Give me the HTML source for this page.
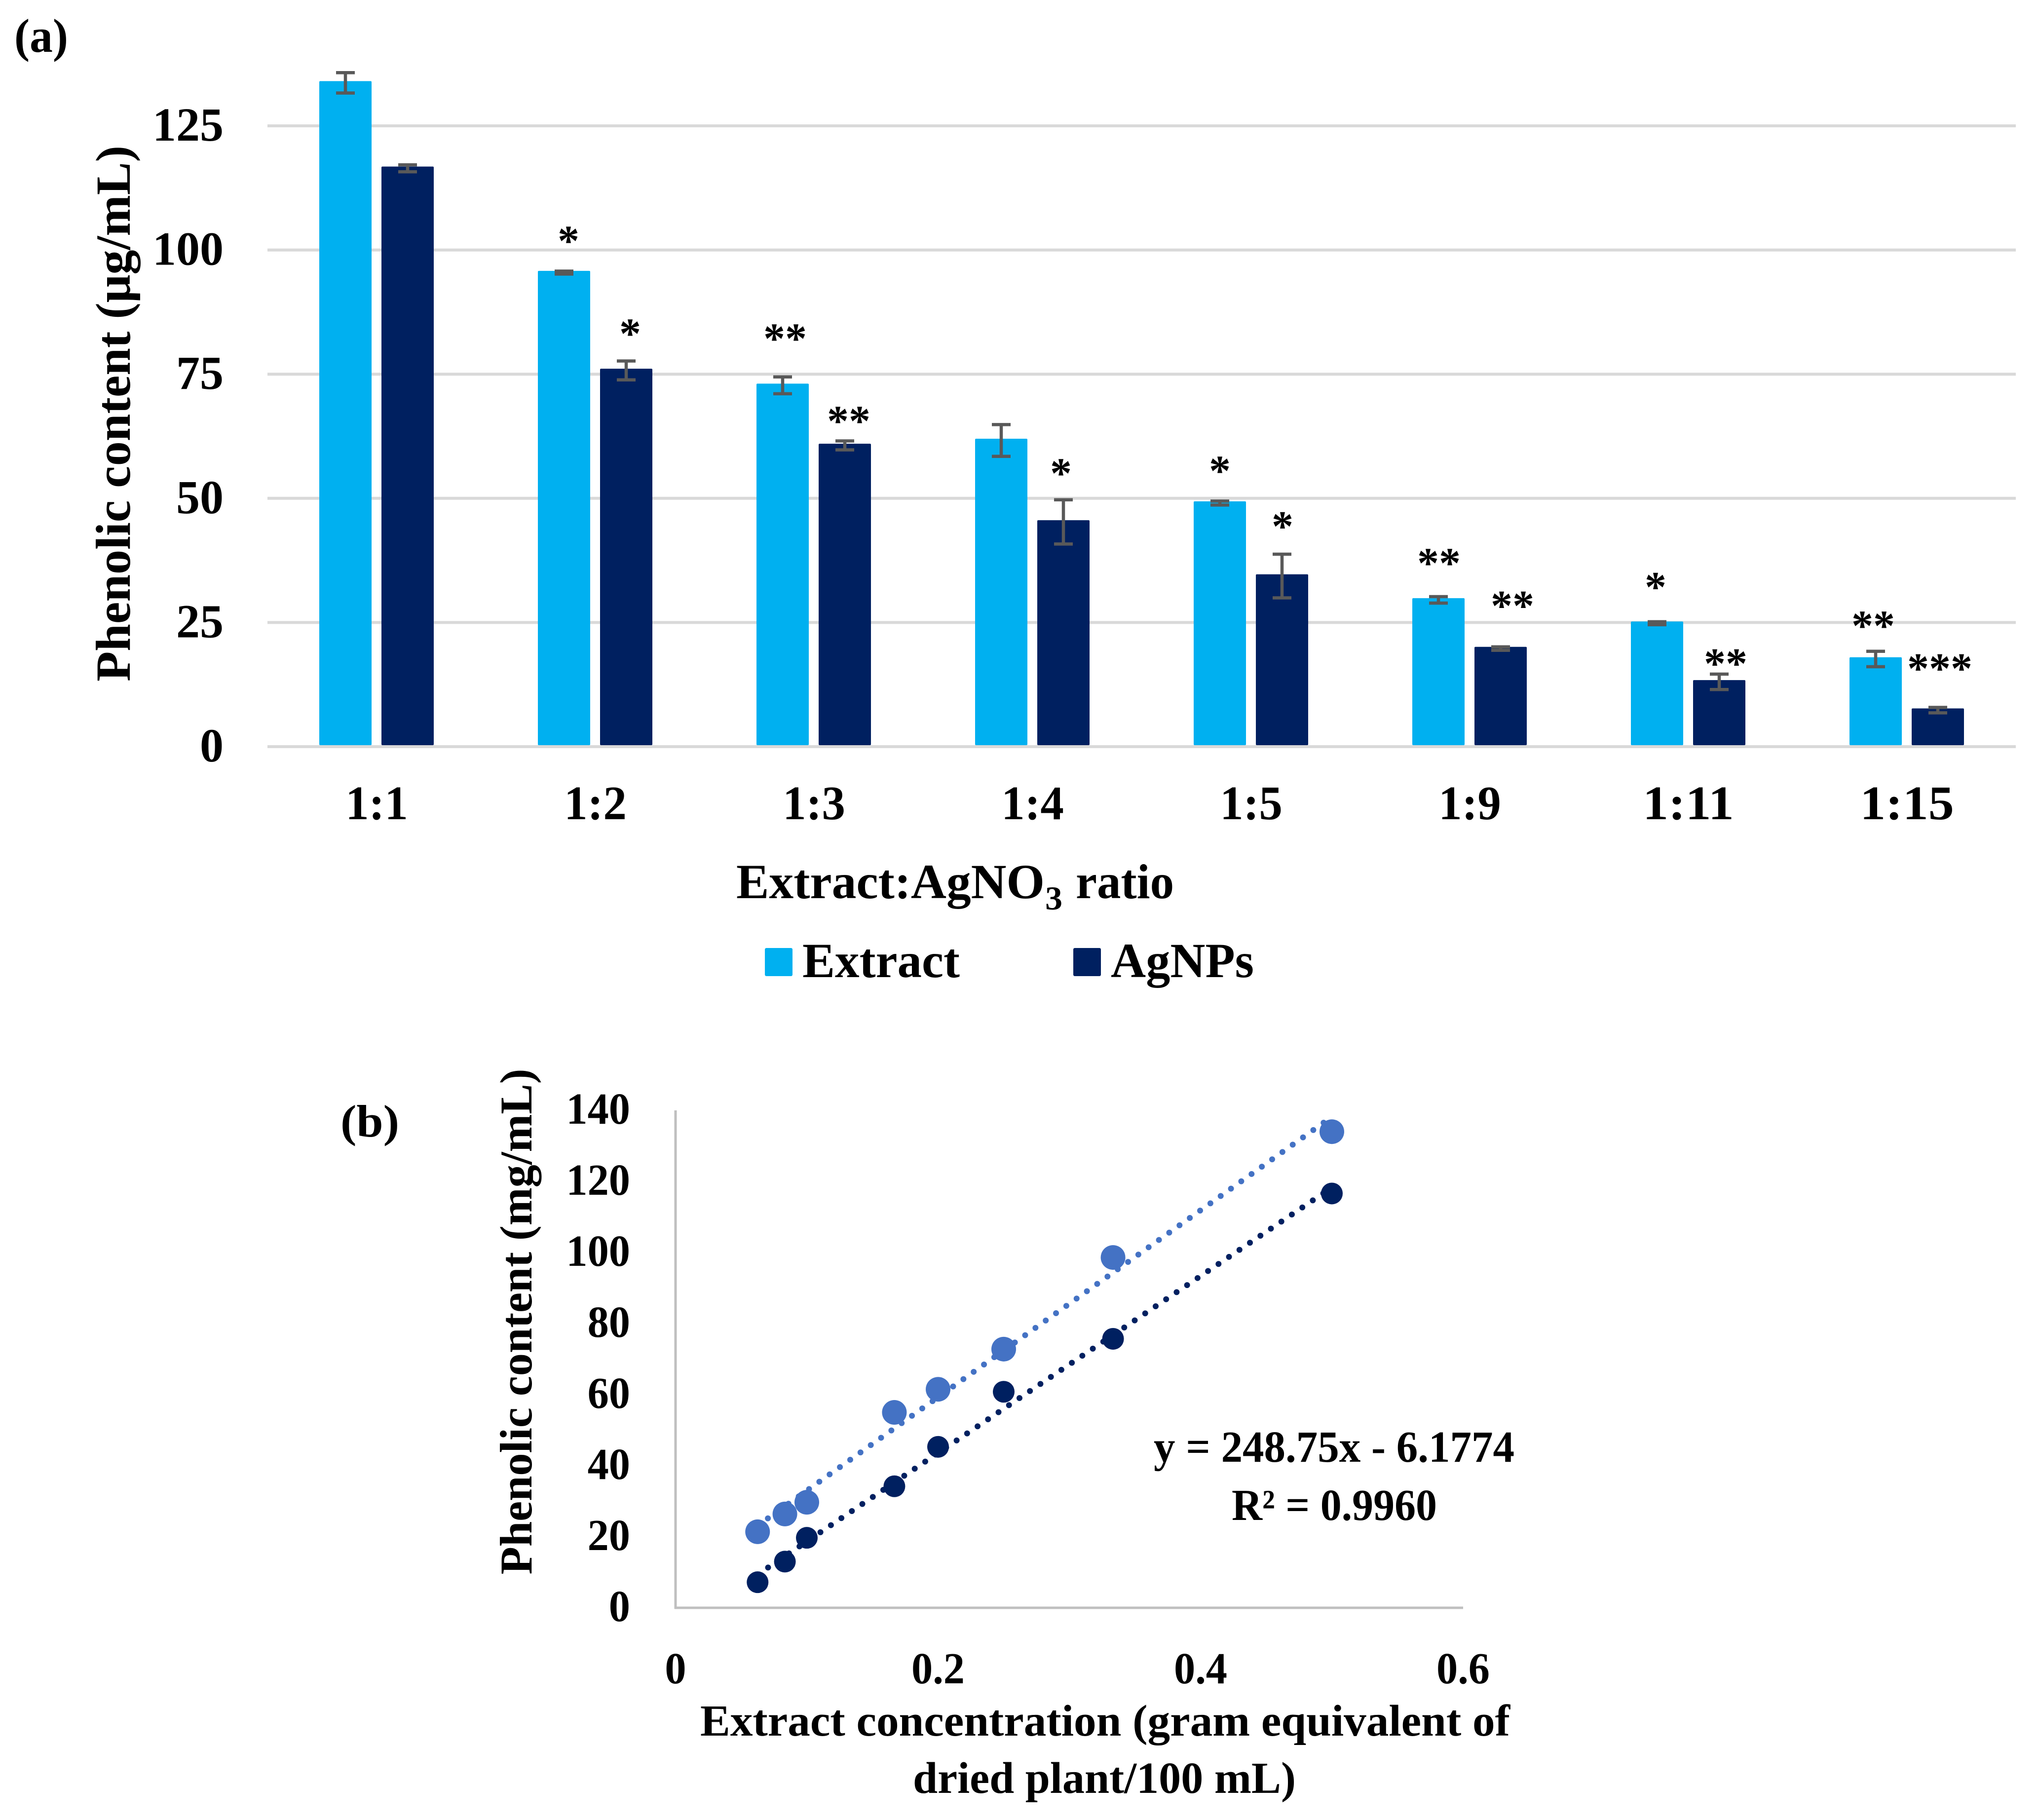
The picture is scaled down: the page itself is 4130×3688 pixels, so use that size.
<!DOCTYPE html>
<html lang="en">
<head>
<meta charset="utf-8">
<title>Phenolic content charts</title>
<style>
html,body{margin:0;padding:0;background:#fff;}
body{width:4130px;height:3688px;overflow:hidden;}
svg{display:block;}
text{font-family:"Liberation Serif","DejaVu Serif",serif;font-weight:bold;fill:#000;}
</style>
</head>
<body>
<svg id="fig" xmlns="http://www.w3.org/2000/svg" width="4130" height="3688" viewBox="0 0 4130 3688">
  <rect x="0" y="0" width="4130" height="3688" fill="#ffffff"/>

  <g id="panelA">
    <text x="29" y="105" font-size="96" textLength="109" lengthAdjust="spacingAndGlyphs">(a)</text>
    <g id="gridA"></g>
    <g id="yTicksA"></g>
    <g id="barsA"></g>
    <g id="errA"></g>
    <g id="starsA"></g>
    <g id="xTicksA"></g>
    <text transform="translate(263,838) rotate(-90)" text-anchor="middle" font-size="100" textLength="1086" lengthAdjust="spacingAndGlyphs">Phenolic content (μg/mL)</text>
    <g>
      <text x="1492" y="1820" font-size="100" textLength="625" lengthAdjust="spacingAndGlyphs">Extract:AgNO</text>
      <text x="2118" y="1843" font-size="68" textLength="35" lengthAdjust="spacingAndGlyphs">3</text>
      <text x="2180" y="1820" font-size="100" textLength="199" lengthAdjust="spacingAndGlyphs">ratio</text>
    </g>
    <g>
      <rect x="1550" y="1921" width="56" height="57" rx="3" fill="#00b0f0"/>
      <text x="1626" y="1980" font-size="100" textLength="319" lengthAdjust="spacingAndGlyphs">Extract</text>
      <rect x="2175" y="1921" width="56" height="57" rx="3" fill="#002060"/>
      <text x="2251" y="1980" font-size="100" textLength="290" lengthAdjust="spacingAndGlyphs">AgNPs</text>
    </g>
  </g>

  <g id="panelB">
    <text x="690" y="2303" font-size="92" textLength="119" lengthAdjust="spacingAndGlyphs">(b)</text>
    <line x1="1369" y1="2250" x2="1369" y2="3260" stroke="#bfbfbf" stroke-width="5"/>
    <line x1="1367" y1="3258" x2="2965" y2="3258" stroke="#bfbfbf" stroke-width="5"/>
    <g id="yTicksB"></g>
    <g id="xTicksB"></g>
    <g id="trendB"></g>
    <g id="pointsB"></g>
    <text transform="translate(1077,2678) rotate(-90)" text-anchor="middle" font-size="92" textLength="1025" lengthAdjust="spacingAndGlyphs">Phenolic content (mg/mL)</text>
    <text x="1419" y="3517" font-size="90" textLength="1641" lengthAdjust="spacingAndGlyphs">Extract concentration (gram equivalent of</text>
    <text x="1850" y="3633" font-size="90" textLength="776" lengthAdjust="spacingAndGlyphs">dried plant/100 mL)</text>
    <text x="2338" y="2962" font-size="90" textLength="731" lengthAdjust="spacingAndGlyphs">y = 248.75x - 6.1774</text>
    <text x="2496" y="3080" font-size="90" textLength="416" lengthAdjust="spacingAndGlyphs">R² = 0.9960</text>
  </g>
</svg>

<script>
// Panel (a) data
const categoriesA = ['1:1','1:2','1:3','1:4','1:5','1:9','1:11','1:15'];
const extractValues = [134.0,95.8,73.1,62.0,49.4,29.9,25.2,18.0];
const agnpValues = [116.8,76.1,61.0,45.6,34.7,20.1,13.4,7.7];
const extractErrors = [2.05,0.3,1.7,3.2,0.4,0.65,0.3,1.55];
const agnpErrors = [0.7,1.9,0.9,4.45,4.4,0.35,1.55,0.55];
const extractStars = ['','*','**','','*','**','*','**'];
const agnpStars = ['','*','**','*','*','**','**','***'];
const extractStarLevels = [0,103,83.3,0,56.7,38.1,33.3,25.5];
const agnpStarLevels = [0,84.3,66.7,56.2,45.5,29.5,17.9,16.9];
const extractStarShift = [0,9,5,0,0,1,-3,-5];
const agnpStarShift = [0,8,8,-5,1,24,13,4];
const yTicksA = [0,25,50,75,100,125];

// Panel (b) data
const xValuesB = [0.5,0.3333,0.25,0.2,0.1667,0.1,0.0833,0.0625];
const extractSeriesB = [134,98.6,72.8,61.5,55,29.7,26.4,21.4];
const agnpSeriesB = [116.6,75.7,60.8,45.3,34.2,19.7,13,7.2];
const yTicksB = [0,20,40,60,80,100,120,140];
const xTicksB = [0,0.2,0.4,0.6];

const NS = 'http://www.w3.org/2000/svg';
function mk(tag, attrs, parent, txt){
  const el = document.createElementNS(NS, tag);
  for (const k in attrs) el.setAttribute(k, attrs[k]);
  if (txt !== undefined) el.textContent = txt;
  parent.appendChild(el);
  return el;
}
function fit(el, factor){
  el.setAttribute('textLength', (el.getComputedTextLength() * factor).toFixed(1));
  el.setAttribute('lengthAdjust', 'spacingAndGlyphs');
}

// Panel (a) axis functions
const yA = v => 1513 - v * 10.064;
const bandA = i => 542 + 443 * i;
const BAR_BOTTOM = 1510;
const BAR_W = 106;

const gridA = document.getElementById('gridA');
const yTickGroupA = document.getElementById('yTicksA');
yTicksA.forEach(t => {
  const line = mk('line', {x1:542, x2:4085, y1:yA(t), y2:yA(t), stroke:'#d9d9d9', 'stroke-width':6}, gridA);
  
  
  const lab = mk('text', {x:453, y:yA(t) + 30, 'text-anchor':'end', 'font-size':96}, yTickGroupA, String(t));
  
  
});

const barsA = document.getElementById('barsA');
const errA = document.getElementById('errA');
const starsA = document.getElementById('starsA');
const xTickGroupA = document.getElementById('xTicksA');

function drawBar(i, val, err, offset, color, seriesName){
  const x = bandA(i) + offset;
  const top = yA(val);
  const bar = mk('rect', {x:x, y:top, width:BAR_W, height:BAR_BOTTOM - top, rx:2, fill:color}, barsA);
  
  
  const cx = x + BAR_W / 2;
  const cy = top + 3.5;
  const hi = cy - err * 10.064;
  const lo = cy + err * 10.064;
  const eb = mk('path', {d:'M' + (cx-19) + ' ' + hi + 'H' + (cx+19) + 'M' + cx + ' ' + hi + 'V' + lo + 'M' + (cx-19) + ' ' + lo + 'H' + (cx+19), stroke:'#595959', 'stroke-width':6.5, fill:'none'}, errA);
  
  
}
function drawStar(i, label, level, offset, shift, seriesName){
  if (!label) return;
  const cx = bandA(i) + offset + BAR_W / 2 + shift;
  const st = mk('text', {x:cx, y:yA(level) + 41, 'text-anchor':'middle', 'font-size':88}, starsA, label);
  
  
}
categoriesA.forEach((c, i) => {
  drawBar(i, extractValues[i], extractErrors[i], 105, '#00b0f0', 'extract');
  drawBar(i, agnpValues[i], agnpErrors[i], 231, '#002060', 'agnps');
  drawStar(i, extractStars[i], extractStarLevels[i], 105, extractStarShift[i], 'extract');
  drawStar(i, agnpStars[i], agnpStarLevels[i], 231, agnpStarShift[i], 'agnps');
  const lab = mk('text', {x:bandA(i) + 221.5, y:1660, 'text-anchor':'middle', 'font-size':98}, xTickGroupA, c);
  
  
  fit(lab, c.length > 3 ? 1.06 : 0.97);
});

// Panel (b) axis functions
const xB = v => 1369 + v * 2660;
const yB = v => 3258 - v * 7.2;

const yTickGroupB = document.getElementById('yTicksB');
yTicksB.forEach(t => {
  const lab = mk('text', {x:1277, y:yB(t) + 27, 'text-anchor':'end', 'font-size':90}, yTickGroupB, String(t));
  
  
  fit(lab, 0.96);
});
const xTickGroupB = document.getElementById('xTicksB');
xTicksB.forEach(t => {
  const lab = mk('text', {x:xB(t), y:3411, 'text-anchor':'middle', 'font-size':90}, xTickGroupB, String(t));
  
  
  fit(lab, 0.96);
});

function regress(xs, ys){
  const n = xs.length;
  const mx = xs.reduce((a, b) => a + b, 0) / n;
  const my = ys.reduce((a, b) => a + b, 0) / n;
  let sxy = 0, sxx = 0;
  xs.forEach((x, i) => { sxy += (x - mx) * (ys[i] - my); sxx += (x - mx) * (x - mx); });
  const m = sxy / sxx;
  return {m:m, b:my - m * mx};
}
const trendB = document.getElementById('trendB');
const pointsB = document.getElementById('pointsB');
function drawSeriesB(values, color, radius, seriesName){
  const fitLine = regress(xValuesB, values);
  const xMin = Math.min.apply(null, xValuesB);
  const xMax = Math.max.apply(null, xValuesB);
  const tl = mk('line', {x1:xB(xMin), y1:yB(fitLine.m * xMin + fitLine.b), x2:xB(xMax), y2:yB(fitLine.m * xMax + fitLine.b), stroke:color, 'stroke-width':12, 'stroke-linecap':'round', 'stroke-dasharray':'0 25.6'}, trendB);
  
  
  values.forEach((v, i) => {
    const pt = mk('circle', {cx:xB(xValuesB[i]), cy:yB(v), r:radius, fill:color}, pointsB);
    
    
  });
}
drawSeriesB(extractSeriesB, '#4472c4', 25, 'extract');
drawSeriesB(agnpSeriesB, '#002060', 22, 'agnps');
</script>
</body>
</html>
